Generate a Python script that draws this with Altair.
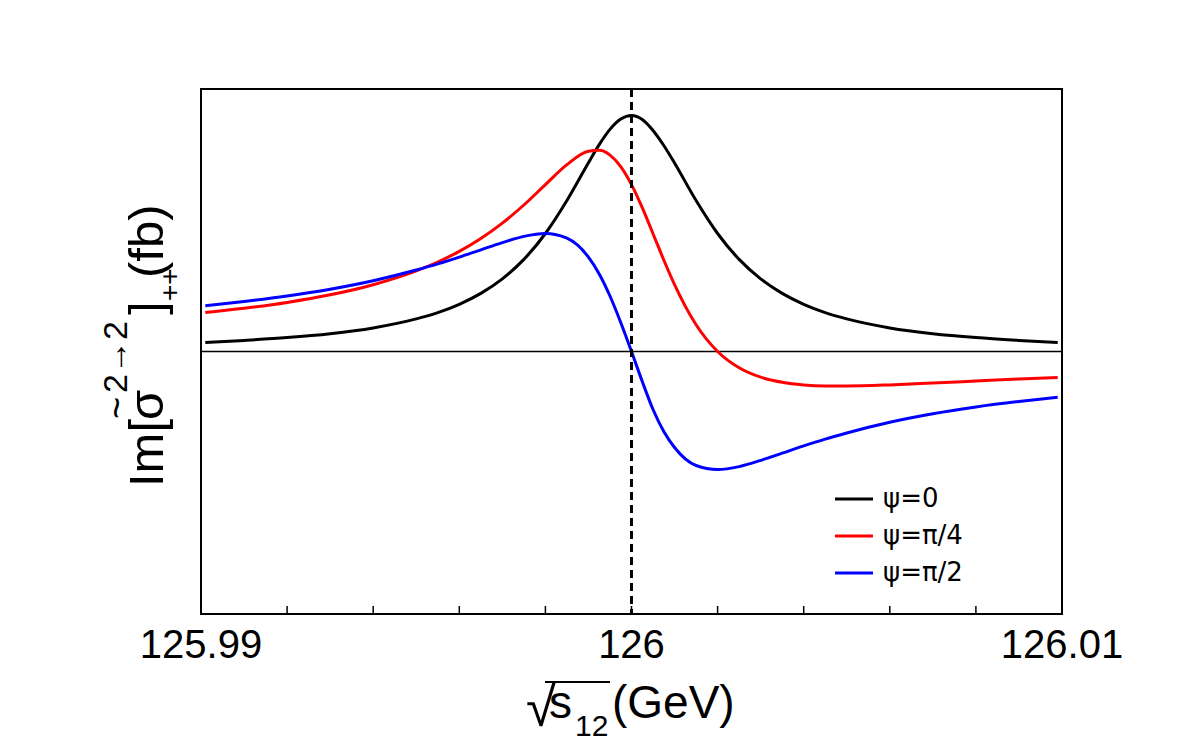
import altair as alt
import pandas as pd

# sqrt(s12) measured as an offset from 126 GeV, in MeV
offset_mev = [-9.9, -9, -8, -7, -6, -5, -4.5, -4, -3.5, -3, -2.5, -2, -1.5, -1, -0.75, -0.5, -0.25, 0,
              0.25, 0.5, 0.75, 1, 1.5, 2, 2.5, 3, 3.5, 4, 4.5, 5, 6, 7, 8, 9, 9.9]

# Im[sigma~]_{++} for the three CP phases (fb, arbitrary normalisation)
psi_0 = [0.09, 0.111, 0.139, 0.178, 0.236, 0.326, 0.389, 0.472, 0.581, 0.726, 0.921, 1.18, 1.51, 1.888,
         2.069, 2.221, 2.324, 2.36,
         2.32, 2.21, 2.06, 1.885, 1.51, 1.18, 0.921, 0.726, 0.581, 0.472, 0.389, 0.326, 0.236, 0.178,
         0.139, 0.111, 0.09]
psi_pi4 = [0.389, 0.432, 0.491, 0.567, 0.668, 0.806, 0.895, 1.001, 1.130, 1.284, 1.465, 1.669, 1.869, 2.003,
           2.012, 1.964, 1.849, 1.669,
           1.438, 1.178, 0.915, 0.668, 0.267, 0.0, -0.163, -0.257, -0.308, -0.334, -0.344, -0.345, -0.334,
           -0.315, -0.295, -0.275, -0.259]
psi_pi2 = [0.458, 0.50, 0.555, 0.623, 0.708, 0.815, 0.876, 0.944, 1.017, 1.089, 1.151, 1.18, 1.133, 0.944,
           0.776, 0.555, 0.29, 0.0,
           -0.30, -0.58, -0.80, -0.96, -1.14, -1.18, -1.151, -1.089, -1.017, -0.944, -0.876, -0.815, -0.708,
           -0.623, -0.555, -0.50, -0.458]

series_names = ["ψ=0", "ψ=π/4", "ψ=π/2"]
series_colors = ["#000000", "#ff0000", "#0000ff"]
series_values = [psi_0, psi_pi4, psi_pi2]

tick_labels = [125.99, 126.0, 126.01]
minor_ticks = [125.992, 125.994, 125.996, 125.998, 126.0, 126.002, 126.004, 126.006, 126.008]
resonance_mass = [126.0]

x_gev = [126 + d / 1000 for d in offset_mev]
rows = []
for name, vals in zip(series_names, series_values):
    for xv, yv in zip(x_gev, vals):
        rows.append({"s12": xv, "im": yv, "series": name})
curves = pd.DataFrame(rows)

W, H = 861, 525
FONT = "Liberation Sans"

xs = alt.Scale(domain=[125.99, 126.01], nice=False, zero=False)
ys = alt.Scale(domain=[-2.625, 2.625], nice=False, zero=False)

layers = []

# zero line
layers.append(
    alt.Chart(pd.DataFrame({"zero": [0.0]}))
    .mark_rule(color="black", strokeWidth=1.5)
    .encode(y=alt.Y("zero:Q", scale=ys, axis=None))
)

# the three curves, drawn black, red, blue
for name, color in zip(series_names, series_colors):
    layers.append(
        alt.Chart(curves)
        .transform_filter(alt.datum.series == name)
        .mark_line(color=color, strokeWidth=3, interpolate="monotone")
        .encode(
            x=alt.X("s12:Q", scale=xs, axis=None),
            y=alt.Y("im:Q", scale=ys, axis=None),
        )
    )

# resonance position
layers.append(
    alt.Chart(pd.DataFrame({"m": resonance_mass}))
    .mark_rule(color="black", strokeWidth=3, strokeDash=[8, 5])
    .encode(x=alt.X("m:Q", scale=xs, axis=None))
)

# inward ticks on the bottom axis
layers.append(
    alt.Chart(pd.DataFrame({"t": minor_ticks}))
    .mark_rule(color="black", strokeWidth=1.5)
    .encode(x=alt.X("t:Q", scale=xs, axis=None), y=alt.value(H - 8), y2=alt.value(H))
)

# bottom axis labels
layers.append(
    alt.Chart(pd.DataFrame({"v": tick_labels}))
    .mark_text(font=FONT, fontSize=40, color="black", align="center", baseline="alphabetic")
    .encode(x=alt.X("v:Q", scale=xs, axis=None), y=alt.value(H + 44),
            text=alt.Text("v:Q", format="~g"))
)


def label(text, size, x, y, font=FONT, angle=0, baseline="alphabetic"):
    return (
        alt.Chart(pd.DataFrame({"t": [text]}))
        .mark_text(font=font, fontSize=size, color="black", align="left",
                   baseline=baseline, angle=angle)
        .encode(text="t:N", x=alt.value(x), y=alt.value(y))
    )


# y title: Im[σ̃^{2→2}]_{++} (fb), rotated
layers += [
    label("Im[", 49, -38, 398, angle=270),
    label("σ", 49, -38, 331, angle=270),
    label("~", 38, -71, 330, angle=270),
    label("2→2", 34, -74, 304, angle=270),
    label("]", 49, -38, 226, angle=270),
    label("++", 28, -22, 212, angle=270),
    label("(fb)", 49, -38, 189, angle=270),
]

# x title: sqrt(s_12) (GeV)
layers += [
    label("√", 54, 325, 637),
    label("s", 46, 348, 629),
    label("12", 30, 374, 647),
    label("(GeV)", 46, 411, 629),
    alt.Chart(pd.DataFrame({"o": [0]})).mark_rule(color="black", strokeWidth=2)
    .encode(x=alt.value(344), x2=alt.value(409), y=alt.value(593)),
]

# legend
for i, (name, color) in enumerate(zip(series_names, series_colors)):
    yy = 410 + 37 * i
    layers.append(
        alt.Chart(pd.DataFrame({"k": [name]})).mark_rule(color=color, strokeWidth=3)
        .encode(x=alt.value(634), x2=alt.value(672), y=alt.value(yy))
    )
    layers.append(label(name, 26, 682, yy, "DejaVu Sans", 0, "middle"))

chart = (
    alt.layer(*layers)
    .properties(width=W, height=H, background="white",
                autosize=alt.AutoSizeParams(type="none"),
                padding={"left": 201, "top": 89, "right": 120, "bottom": 126})
    .configure_view(stroke="black", strokeWidth=2)
)

chart.save("out.html", embed_options={"renderer": "svg", "actions": False})
